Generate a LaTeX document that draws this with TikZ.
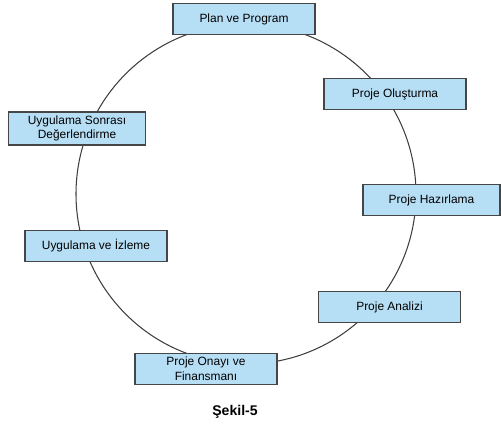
\documentclass[tikz,border=0pt]{standalone}
\usepackage{fontspec}
\setmainfont{Liberation Sans}
\definecolor{boxfill}{RGB}{182,222,245}
\definecolor{boxline}{RGB}{70,70,70}
\tikzset{
  stage/.style={draw=boxline, fill=boxfill, line width=0.6pt,
    minimum width=2.84cm, minimum height=0.62cm, inner sep=1pt,
    align=center, font=\fontsize{6.8}{8.4}\selectfont},
  ring/.style={draw=boxline!90!black, line width=0.6pt}
}
\begin{document}
\begin{tikzpicture}[x=0.02cm, y=-0.02cm]
  \useasboundingbox (0,0) rectangle (501,425);
  \coordinate (mid) at (246,194);
  \draw[ring] (mid) circle [radius=170];
  \draw
    (244,19) node[stage] (plan){Plan ve Program}
    (395,94) node[stage] (olus){Proje Oluşturma}
    (431.5,200) node[stage, minimum width=2.74cm] (hazir){Proje Hazırlama}
    (389.5,307) node[stage] (analiz){Proje Analizi}
    (206,369) node[stage] (onay){Proje Onayı ve\\Finansmanı}
    (96,246) node[stage] (izle){Uygulama ve İzleme}
    (77,128.5) node[stage, minimum width=2.74cm, minimum height=0.66cm] (sonra){Uygulama Sonrası\\Değerlendirme};
  \node[font=\bfseries\fontsize{8}{9.6}\selectfont] (sekil) at (235,412) {Şekil-5};
\end{tikzpicture}
\end{document}
